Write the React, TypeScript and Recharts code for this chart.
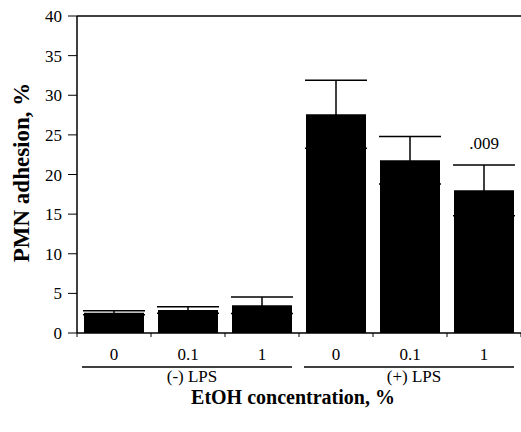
import { Bar, BarChart, ErrorBar, LabelList, ReferenceLine, XAxis, YAxis } from "recharts";

const doses = ["0", "0.1", "1", "0", "0.1", "1"];
const adhesion = [2.55, 2.9, 3.5, 27.6, 21.8, 18.0];
const sem = [0.25, 0.4, 1.05, 4.3, 3.0, 3.2];
const notes = ["", "", "", "", "", ".009"];
const groups = ["(-) LPS", "(+) LPS"];
const yTicks = [0, 5, 10, 15, 20, 25, 30, 35, 40];

const data = doses.map((d, i) => ({
  dose: d,
  adhesion: adhesion[i],
  sem: sem[i],
  note: notes[i],
}));

const font = "Liberation Serif";

function DoseTick(props: any) {
  const { x, y, payload, index } = props;
  const half = payload && payload.offset ? payload.offset : 37;
  const gi = index === 1 ? 0 : index === 4 ? 1 : -1;
  return (
    <g>
      <line x1={x - half} x2={x - half} y1={y} y2={y + 4} stroke="#000" />
      {index === doses.length - 1 && (
        <line x1={x + half} x2={x + half} y1={y} y2={y + 4} stroke="#000" />
      )}
      <text x={x} y={y + 27} textAnchor="middle" fontSize={17} fontFamily={font} fill="#000">
        {payload.value}
      </text>
      {gi >= 0 && (
        <g>
          <line
            x1={x - 3 * half + 5}
            x2={x + 3 * half - 7}
            y1={y + 34}
            y2={y + 34}
            stroke="#000"
            strokeWidth={1.5}
          />
          <text x={x + 4} y={y + 49} textAnchor="middle" fontSize={17} fontFamily={font} fill="#000">
            {groups[gi]}
          </text>
        </g>
      )}
    </g>
  );
}

export default function App() {
  return (
    <div style={{ position: "absolute", left: 0, top: 0, background: "#fff" }}>
      <BarChart
        width={521}
        height={432}
        data={data}
        margin={{ top: 16, right: 0, bottom: 0, left: 0 }}
        barCategoryGap={0}
      >
        <ReferenceLine y={40} stroke="#000" strokeWidth={1.5} />
        <XAxis
          dataKey="dose"
          height={99}
          tickLine={false}
          tickSize={0}
          tickMargin={0}
          axisLine={{ stroke: "#000", strokeWidth: 1.5 }}
          tick={<DoseTick />}
          interval={0}
          label={{
            content: (p: any) => {
              const vb = p.viewBox || {};
              return (
                <text
                  x={vb.x + vb.width / 2 - 6}
                  y={vb.y + 71}
                  textAnchor="middle"
                  fontSize={20}
                  fontWeight="bold"
                  fontFamily={font}
                  fill="#000"
                >
                  EtOH concentration, %
                </text>
              );
            },
          }}
        />
        <YAxis
          width={77}
          domain={[0, 40]}
          ticks={yTicks}
          interval={0}
          tickSize={9}
          tickMargin={6}
          tickLine={{ stroke: "#000" }}
          axisLine={{ stroke: "#000", strokeWidth: 1.5 }}
          tick={{ fill: "#000", fontSize: 17, fontFamily: font }}
          label={{
            content: (p: any) => {
              const vb = p.viewBox || {};
              const cx = 21;
              const cy = vb.y + vb.height / 2 - 2;
              return (
                <text
                  x={cx}
                  y={cy}
                  transform={`rotate(-90 ${cx} ${cy})`}
                  textAnchor="middle"
                  dominantBaseline="central"
                  fontSize={23}
                  fontWeight="bold"
                  fontFamily={font}
                  fill="#000"
                >
                  PMN adhesion, %
                </text>
              );
            },
          }}
        />
        <Bar dataKey="adhesion" fill="#000" barSize={60} isAnimationActive={false}>
          <ErrorBar dataKey="sem" width={31} stroke="#000" strokeWidth={1.5} direction="y" />
          <LabelList
            dataKey="note"
            position="top"
            offset={41}
            fill="#000"
            fontSize={17}
            fontFamily={font}
          />
        </Bar>
      </BarChart>
    </div>
  );
}
